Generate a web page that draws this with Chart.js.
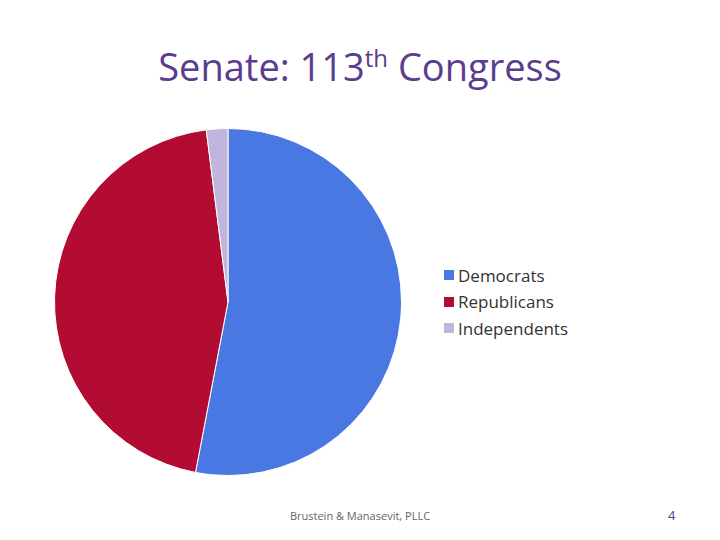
<!DOCTYPE html>
<html>
<head>
<meta charset="utf-8">
<script src="https://cdn.jsdelivr.net/npm/chart.js@4"></script>
<style>
  body { margin: 0; width: 720px; height: 540px; background: #fff; position: relative; overflow: hidden; font-family: Calibri, Carlito, "Liberation Sans", sans-serif; }
  #title { position: absolute; left: 0; width: 720px; top: 40px; text-align: center; font-size: 38px; color: #5b3c8e; font-family: "Open Sans", "DejaVu Sans", sans-serif; }
  #title sup { font-size: 24px; }
  #wrap { position: absolute; left: 54px; top: 128px; width: 348px; height: 348px; }
  #legend { position: absolute; left: 444px; top: 262px; font-size: 17px; color: #333; font-family: "Open Sans", sans-serif; }
  #legend div { height: 26.5px; display: flex; align-items: center; }
  #legend span { display: inline-block; width: 10px; height: 10px; margin-right: 4px; }
  #footer { position: absolute; left: 0; width: 720px; top: 508px; text-align: center; font-size: 11px; color: #666; font-family: "Open Sans", sans-serif; }
  #page { position: absolute; left: 668px; top: 506px; font-size: 13px; color: #5b3c8e; font-family: "Open Sans", sans-serif; }
</style>
</head>
<body>
<div id="title">Senate: 113<sup>th</sup> Congress</div>
<div id="wrap"><canvas id="pie"></canvas></div>
<div id="legend"></div>
<div id="footer">Brustein &amp; Manasevit, PLLC</div>
<div id="page">4</div>
<script>
const parties = ['Democrats', 'Republicans', 'Independents'];
const seats = [53, 45, 2];
const partyColors = ['#4a78e2', '#b30c33', '#c1b5dd'];

new Chart(document.getElementById('pie'), {
    type: 'pie',
    data: {
        labels: parties,
        datasets: [{
            data: seats,
            backgroundColor: partyColors,
            borderColor: '#ffffff',
            borderWidth: 1
        }]
    },
    options: {
        responsive: true,
        maintainAspectRatio: false,
        animation: false,
        plugins: {
            legend: { display: false },
            tooltip: { enabled: false }
        }
    }
});

const legend = document.getElementById('legend');
parties.forEach((p, i) => {
    const row = document.createElement('div');
    row.innerHTML = '<span style="background:' + partyColors[i] + '"></span>' + p;
    legend.appendChild(row);
});
</script>
</body>
</html>
